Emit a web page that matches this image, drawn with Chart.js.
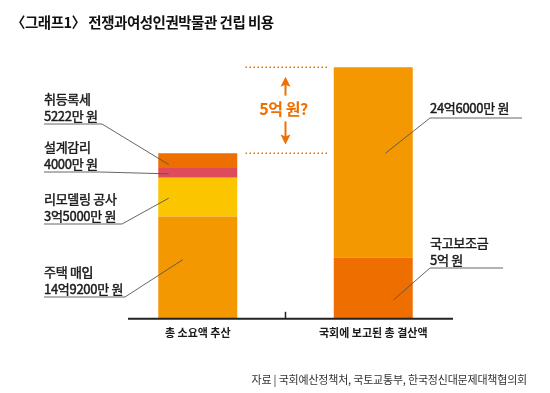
<!DOCTYPE html>
<html lang="ko">
<head>
<meta charset="utf-8">
<script src="https://cdn.jsdelivr.net/npm/chart.js@4.4.1/dist/chart.umd.min.js"></script>
<style>
  html, body { margin: 0; padding: 0; background: #fff; }
</style>
</head>
<body>
<canvas id="chart" width="550" height="393"></canvas>
<script>
// ── Data ─────────────────────────────────────────────────────
const categories = ['총 소요액 추산', '국회에 보고된 총 결산액'];

// Segment names, bottom to top (left bar first, then right bar)
const leftNames    = ['주택 매입', '리모델링 공사', '설계감리', '취등록세'];
const rightNames   = ['국고보조금', ''];
// Heights as drawn (억 원) — the graphic is not to scale, so read off the bars
const leftHeights  = [10.0, 3.8, 0.95, 1.45];
const rightHeights = [6.0, 18.6];
// Amounts printed on the callouts
const leftAmounts  = ['14억9200만 원', '3억5000만 원', '4000만 원', '5222만 원'];
const rightAmounts = ['5억 원', '24억6000만 원'];

const gapLabel   = '5억 원?';
const titleText  = '〈그래프1〉 전쟁과여성인권박물관 건립 비용';
const sourceText = '자료 | 국회예산정책처, 국토교통부, 한국정신대문제대책협의회';

// ── Styles ───────────────────────────────────────────────────
const FONT = "'Noto Sans CJK KR', 'Noto Sans', sans-serif";
const leftColors  = ['#F39800', '#FBC600', '#DE4B5B', '#EE6E00'];
const rightColors = ['#EE6E00', '#F39800'];
const ACCENT = '#EE7000';

// Callout placement: text position + where the leader line lands on the segment
const leftCallouts = [
    { textX: 44, nameY: 272, lineEnd: 125, dx: -15, dy: -8 },
    { textX: 44, nameY: 199, lineEnd: 122, dx: -29, dy: 1 },
    { textX: 44, nameY: 147, lineEnd: 100, dx: -29, dy: 1 },
    { textX: 44, nameY: 99,  lineEnd: 102, dx: -29, dy: 4 }
];
const rightCallouts = [
    { textX: 430, nameY: 243, lineEnd: 503, dx: 20, dy: 12 },
    { textX: 430, nameY: 108, lineEnd: 522, dx: 12, dy: -9 }
];

// ── Datasets ─────────────────────────────────────────────────
const datasets = [];
leftHeights.forEach((h, i) => datasets.push({
    label: leftNames[i], data: [h, null], backgroundColor: leftColors[i]
}));
rightHeights.forEach((h, i) => datasets.push({
    label: rightNames[i] || '결산액', data: [null, h], backgroundColor: rightColors[i]
}));
datasets.forEach(d => { d.barPercentage = 0.45; d.categoryPercentage = 1.0; });

const sum = arr => arr.reduce((a, b) => a + b, 0);

// Slightly heavier text (between regular and bold)
function heavyText(ctx, text, x, y, w) {
    ctx.lineWidth = w;
    ctx.strokeStyle = ctx.fillStyle;
    ctx.strokeText(text, x, y);
    ctx.fillText(text, x, y);
}

// ── Overlay: axis line, gap marker, callouts, title, source ──
const overlay = {
    id: 'overlay',
    afterDatasetsDraw(chart) {
        const ctx = chart.ctx;
        const xs = chart.scales.x, ys = chart.scales.y;
        const area = chart.chartArea;
        const base = ys.getPixelForValue(0);
        const midX = (xs.getPixelForValue(0) + xs.getPixelForValue(1)) / 2;
        ctx.save();

        // baseline + middle tick
        ctx.strokeStyle = '#222';
        ctx.lineWidth = 2;
        ctx.beginPath();
        ctx.moveTo(area.left + 18, base);
        ctx.lineTo(area.right - 8, base);
        ctx.stroke();
        ctx.lineWidth = 1.5;
        ctx.beginPath();
        ctx.moveTo(midX, base - 7);
        ctx.lineTo(midX, base);
        ctx.stroke();

        // dotted guides at both bar tops
        const yTop = ys.getPixelForValue(sum(rightHeights));
        const yBot = ys.getPixelForValue(sum(leftHeights));
        ctx.strokeStyle = ACCENT;
        ctx.lineWidth = 1.5;
        ctx.setLineDash([1.5, 2.5]);
        [yTop, yBot].forEach(y => {
            ctx.beginPath();
            ctx.moveTo(midX - 40, y);
            ctx.lineTo(midX + 42, y);
            ctx.stroke();
        });
        ctx.setLineDash([]);

        // double arrow with label
        const gap = yBot - yTop;
        const at = f => yTop + f * gap;
        ctx.fillStyle = ACCENT;
        ctx.lineWidth = 2;
        const arrow = (tipY, tailY) => {
            const dir = tailY > tipY ? 1 : -1;
            ctx.beginPath();
            ctx.moveTo(midX, tipY + dir * 6);
            ctx.lineTo(midX, tailY);
            ctx.stroke();
            ctx.beginPath();
            ctx.moveTo(midX, tipY);
            ctx.lineTo(midX - 5, tipY + dir * 10);
            ctx.lineTo(midX, tipY + dir * 8);
            ctx.lineTo(midX + 5, tipY + dir * 10);
            ctx.closePath();
            ctx.fill();
        };
        arrow(at(0.11), at(0.33));
        arrow(at(0.90), at(0.63));
        ctx.font = `bold 16px ${FONT}`;
        ctx.textAlign = 'center';
        ctx.textBaseline = 'middle';
        ctx.letterSpacing = '-0.5px';
        ctx.fillText(gapLabel, midX - 2, at(0.48));
        ctx.letterSpacing = '0px';

        // callouts
        const drawCallout = (meta, idx, name, amount, c, side) => {
            const el = meta.data[idx];
            const ax = el.x + c.dx;
            const ay = (el.y + el.base) / 2 + c.dy;
            ctx.fillStyle = '#1a1a1a';
            ctx.font = `13px ${FONT}`;
            ctx.letterSpacing = '-0.3px';
            ctx.textAlign = 'left';
            ctx.textBaseline = 'middle';
            ctx.lineJoin = 'round';
            let lineY;
            if (name) {
                heavyText(ctx, name, c.textX, c.nameY, 0.45);
                heavyText(ctx, amount, c.textX, c.nameY + 17, 0.45);
                lineY = c.nameY + 25;
            } else {
                heavyText(ctx, amount, c.textX, c.nameY, 0.45);
                lineY = c.nameY + 10;
            }
            ctx.strokeStyle = '#555';
            ctx.lineWidth = 0.9;
            ctx.beginPath();
            const elbowX = side === 'left' ? c.lineEnd : c.textX;
            const farX   = side === 'left' ? c.textX : c.lineEnd;
            ctx.moveTo(farX, lineY);
            ctx.lineTo(elbowX, lineY);
            ctx.lineTo(ax, ay);
            ctx.stroke();
        };
        leftNames.forEach((n, i) =>
            drawCallout(chart.getDatasetMeta(i), 0, n, leftAmounts[i], leftCallouts[i], 'left'));
        rightNames.forEach((n, i) =>
            drawCallout(chart.getDatasetMeta(leftNames.length + i), 1, n, rightAmounts[i], rightCallouts[i], 'right'));

        // title
        ctx.fillStyle = '#111';
        ctx.font = `bold 14.5px ${FONT}`;
        ctx.letterSpacing = '-0.5px';
        ctx.textAlign = 'left';
        ctx.fillText(titleText, 11, 22);

        // source
        ctx.fillStyle = '#333';
        ctx.font = `11px ${FONT}`;
        ctx.letterSpacing = '-0.2px';
        ctx.textAlign = 'right';
        ctx.fillText(sourceText, 527, 380);
        ctx.restore();
    }
};

new Chart(document.getElementById('chart'), {
    type: 'bar',
    data: { labels: categories, datasets },
    options: {
        responsive: false,
        animation: false,
        layout: { padding: { left: 110, right: 89, top: 53, bottom: 47 } },
        plugins: { legend: { display: false }, tooltip: { enabled: false } },
        scales: {
            x: {
                stacked: true,
                grid: { display: false, drawTicks: false },
                border: { display: false },
                ticks: {
                    color: '#1a1a1a',
                    padding: 7,
                    maxRotation: 0,
                    autoSkip: false,
                    font: { family: FONT, size: 11, weight: 'bold' }
                }
            },
            y: { stacked: true, display: false, min: 0, max: 26 }
        }
    },
    plugins: [overlay]
});
</script>
</body>
</html>
